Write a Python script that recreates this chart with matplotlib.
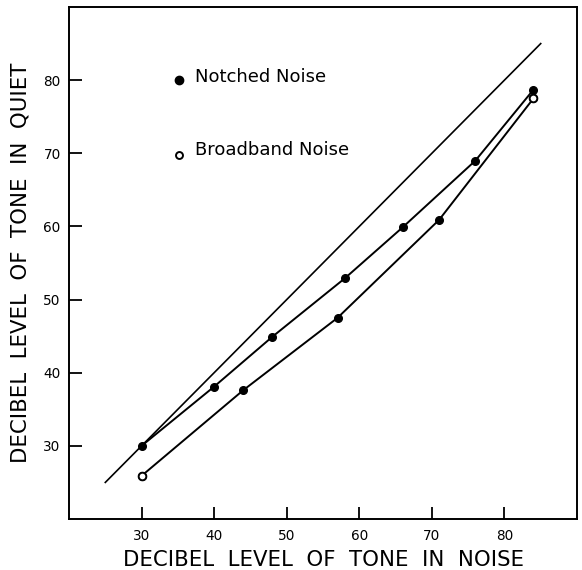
import numpy as np
import matplotlib
matplotlib.use("Agg")
import matplotlib.pyplot as plt

# data (dB)
notched_x = [30, 40, 48, 58, 66, 76, 84]
notched_y = [30, 38.1, 44.9, 52.9, 59.9, 69.0, 78.7]
broad_x = [30, 44, 57, 71, 84]
broad_y = [25.9, 37.6, 47.5, 60.9, 77.5]
equal_line = [25, 85]
ticks = [30, 40, 50, 60, 70, 80]

plt.rcParams['font.family'] = ['DejaVu Sans']

fig = plt.figure(figsize=(5.82, 5.70), dpi=100)
ax = fig.add_axes([0.1186, 0.0895, 0.8728, 0.8982])

ax.plot(equal_line, equal_line, color='black', lw=1.2)
ax.plot(notched_x, notched_y, color='black', lw=1.4, marker='o', ms=5.5,
        mfc='black', mec='black')
ax.plot(broad_x, broad_y, color='black', lw=1.4, marker='o', ms=5.5,
        mfc='black', mec='black')
# end points of broadband series are open
ax.plot([broad_x[0], broad_x[-1]], [broad_y[0], broad_y[-1]], ls='none',
        marker='o', ms=5.5, mfc='white', mec='black', mew=1.4)

# key drawn inside the plot
ax.plot([35.1], [80], marker='o', ms=6, color='black', ls='none')
ax.text(37.3, 79.7, 'Notched Noise', fontsize=13, va='baseline', ha='left')
ax.plot([35.1], [69.8], marker='o', ms=5, mfc='white', mec='black', mew=1.4, ls='none')
ax.text(37.3, 69.8, 'Broadband Noise', fontsize=13, va='baseline', ha='left')

ax.set_xlim(20, 90)
ax.set_ylim(20, 90)
ax.set_xticks(ticks)
ax.set_yticks(ticks)
ax.tick_params(direction='in', length=9, width=1.3, labelsize=9.8)
ax.tick_params(axis='x', pad=7)
ax.tick_params(axis='y', pad=6)
for s in ax.spines.values():
    s.set_linewidth(1.4)

ax.set_xlabel('DECIBEL  LEVEL  OF  TONE  IN  NOISE', fontsize=15.3, labelpad=5)
ax.set_ylabel('DECIBEL  LEVEL  OF  TONE  IN  QUIET', fontsize=15.3, labelpad=9)

fig.savefig('out.png', dpi=100)
